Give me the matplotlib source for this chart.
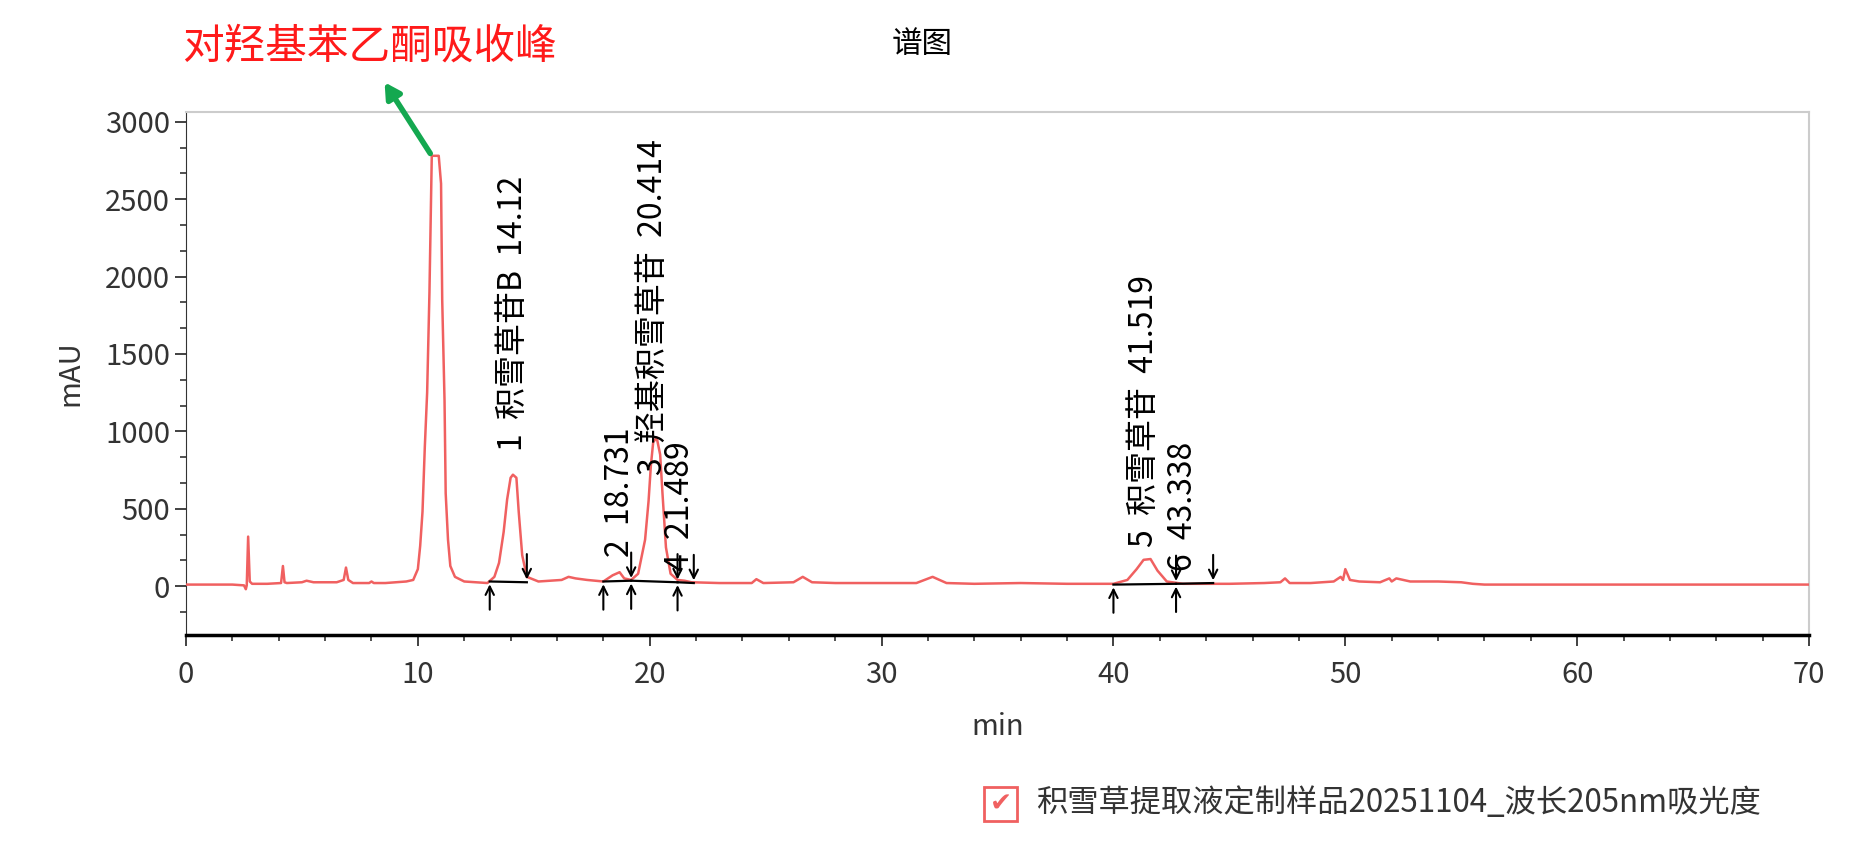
import matplotlib
matplotlib.use("Agg")
import matplotlib.pyplot as plt
from matplotlib.ticker import MultipleLocator, AutoMinorLocator
from matplotlib.patches import Rectangle

plt.rcParams['font.family'] = ['Noto Sans CJK SC', 'DejaVu Sans']

# chromatogram trace points (min, mAU)
t = [0, 2.0, 2.5, 2.58, 2.62, 2.68, 2.75, 2.85, 3.5, 4.1, 4.18, 4.25, 4.35, 5.0, 5.2, 5.5, 6.5, 6.8, 6.9, 7.0, 7.2,
     7.9, 8.0, 8.1, 8.6, 9.5, 9.8, 10.0, 10.1, 10.2, 10.3, 10.4, 10.5, 10.6, 10.65, 10.9, 11.0, 11.05, 11.15, 11.2,
     11.3, 11.4, 11.6, 12.0, 13.0, 13.3, 13.5, 13.7, 13.85, 14.0, 14.1, 14.25, 14.35, 14.5, 14.7, 15.2, 16.2, 16.5,
     16.8, 17.3, 18.0, 18.4, 18.7, 18.9, 19.2, 19.5, 19.8, 19.95, 20.05, 20.15, 20.3, 20.45, 20.55, 20.7, 20.9, 21.2,
     21.5, 21.8, 23.0, 24.4, 24.6, 24.9, 26.2, 26.6, 27.0, 28.0, 31.5, 32.2, 32.8, 34.0, 36.0, 38.0, 40.0, 40.6,
     41.0, 41.3, 41.6, 41.9, 42.3, 43.0, 45.0, 46.5, 47.2, 47.4, 47.6, 48.5, 49.5, 49.8, 49.9, 50.0, 50.2, 50.6,
     51.5, 51.9, 52.0, 52.2, 52.5, 52.8, 54.0, 55.0, 55.5, 56.0, 60.0, 70.0]
y = [10, 10, 5, -20, 5, 320, 30, 15, 15, 20, 130, 25, 20, 25, 35, 25, 25, 40, 120, 40, 20,
     20, 30, 20, 20, 30, 40, 110, 260, 480, 900, 1250, 1900, 2780, 2780, 2780, 2600, 1850, 1200, 600,
     300, 130, 60, 30, 20, 60, 150, 350, 560, 700, 720, 700, 480, 200, 60, 30, 40, 60,
     50, 40, 30, 70, 90, 50, 40, 80, 300, 550, 780, 930, 960, 850, 600, 250, 80, 40,
     35, 25, 20, 20, 45, 20, 25, 60, 25, 20, 20, 60, 20, 15, 20, 15, 15, 40,
     110, 170, 175, 100, 30, 15, 15, 20, 25, 50, 20, 20, 30, 60, 40, 110, 40, 30,
     25, 50, 30, 50, 40, 30, 30, 25, 15, 10, 10, 10]

# integration baseline segments (start, end, y_start, y_end)
seg_t0 = [13.1, 18.0, 19.2, 21.2, 40.0, 42.7]
seg_t1 = [14.7, 19.2, 21.2, 21.9, 42.7, 44.3]
seg_y0 = [30, 30, 35, 25, 10, 15]
seg_y1 = [25, 35, 25, 20, 15, 20]

# peak labels
lab_x = [14.1, 18.7, 20.2, 21.3, 41.3, 43.0]
lab_y = [870, 190, 720, 100, 250, 100]
labels = ["1  积雪草苷B  14.12", "2  18.731", "3  羟基积雪草苷  20.414",
          "4  21.489", "5  积雪草苷  41.519", "6  43.338"]

fig = plt.figure(figsize=(18.6, 8.52), dpi=100)
ax = fig.add_axes([0.100, 0.255, 0.8726, 0.613])
ax.plot(t, y, color='#f06060', lw=1.8, zorder=3)

for a, b, c, d in zip(seg_t0, seg_t1, seg_y0, seg_y1):
    ax.plot([a, b], [c, d], color='black', lw=1.6, zorder=4)
    ax.annotate('', xy=(a, c), xytext=(a, c - 200),
                arrowprops=dict(arrowstyle='->,head_width=0.3,head_length=0.6', color='black', lw=1.5), zorder=5)
    ax.annotate('', xy=(b, d), xytext=(b, d + 200),
                arrowprops=dict(arrowstyle='->,head_width=0.3,head_length=0.6', color='black', lw=1.5), zorder=5)

for lx, ly, s in zip(lab_x, lab_y, labels):
    ax.text(lx, ly, s, rotation=90, ha='center', va='bottom', fontsize=23, zorder=6)

ax.set_xlim(0, 70)
ax.set_ylim(-314, 3060)
ax.xaxis.set_major_locator(MultipleLocator(10))
ax.xaxis.set_minor_locator(MultipleLocator(2))
ax.yaxis.set_major_locator(MultipleLocator(500))
ax.yaxis.set_minor_locator(AutoMinorLocator(3))
ax.tick_params(axis='both', which='major', labelsize=21, length=8, width=1.3, color='#333333', labelcolor='#333333')
ax.tick_params(axis='both', which='minor', length=4, width=1.2, color='#333333')
ax.tick_params(axis='x', pad=10)
for s in ['top', 'right']:
    ax.spines[s].set_color('#cccccc')
    ax.spines[s].set_linewidth(1.5)
ax.spines['left'].set_color('#333333')
ax.spines['bottom'].set_color('black')
ax.spines['bottom'].set_linewidth(2.5)
ax.set_xlabel('min', fontsize=21, labelpad=16, color='#333333')
ax.set_ylabel('mAU', fontsize=21, labelpad=14, color='#333333')

# green arrow pointing out to the annotation text
ax.annotate('', xy=(8.5, 3270), xytext=(10.6, 2780),
            arrowprops=dict(arrowstyle='-|>,head_width=0.5,head_length=0.9', color='#14a850', lw=4),
            annotation_clip=False, zorder=7)
fig.text(0.098, 0.945, '对羟基苯乙酮吸收峰', color='#ff1a1a', fontsize=30, ha='left', va='center')
fig.text(0.496, 0.948, '谱图', fontsize=22, ha='center', va='center')

# legend
fig.patches.append(Rectangle((0.529, 0.036), 0.018, 0.040, transform=fig.transFigure,
                             fill=False, edgecolor='#f06060', lw=2))
fig.text(0.538, 0.056, '✔', color='#f06060', fontsize=19, ha='center', va='center',
         family=['DejaVu Sans'])
fig.text(0.557, 0.057, '积雪草提取液定制样品20251104_波长205nm吸光度', fontsize=22.5,
         ha='left', va='center', color='#333333')

fig.savefig('out.png', dpi=100)
